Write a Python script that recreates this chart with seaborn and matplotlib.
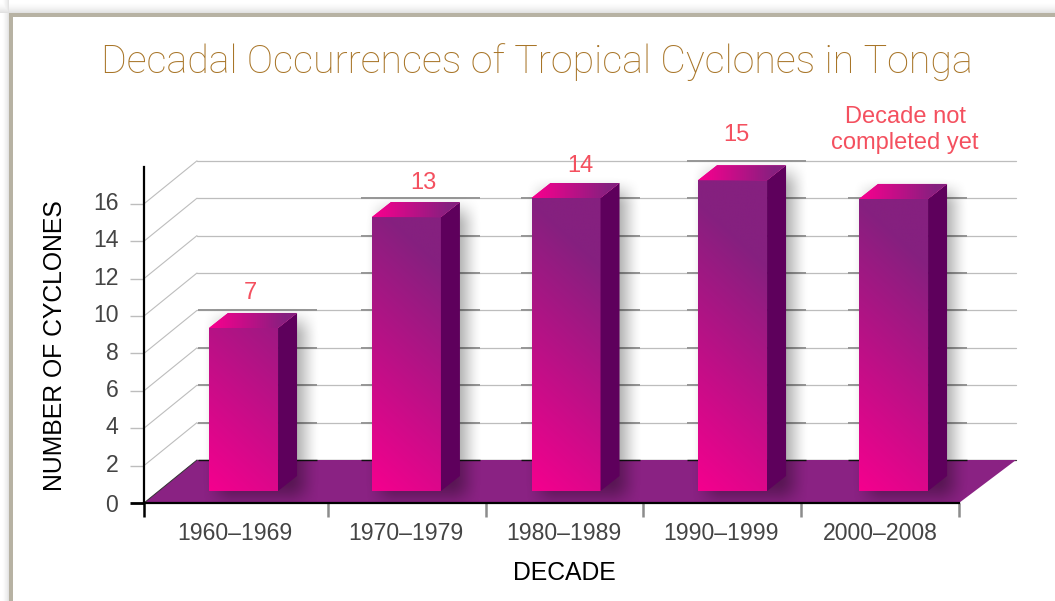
import numpy as np
import pandas as pd
import matplotlib
matplotlib.use("Agg")
import matplotlib.pyplot as plt
from matplotlib.colors import LinearSegmentedColormap
from matplotlib.patches import Polygon, Rectangle
from matplotlib.transforms import ScaledTranslation
import seaborn as sns

# ---- data
decades = ["1960–1969", "1970–1979", "1980–1989", "1990–1999", "2000–2008"]
bar_tops = [9.36, 15.29, 16.31, 17.26, 16.26]      # top of each bar front, read on the axis
bar_slots = [0.630, 1.661, 2.671, 3.725, 4.744]    # bar centres along the drawn x axis
value_labels = ["7", "13", "14", "15", "Decade not\ncompleted yet"]
y_ticks = [0, 2, 4, 6, 8, 10, 12, 14, 16]
x_separators = [0, 1.165, 2.165, 3.158, 4.158, 5.158]
x_label_slots = [0.576, 1.658, 2.658, 3.652, 4.658]
label_offsets_px = [(7, 20), (16.5, 19), (14, 17), (4, 30), (11.5, 54)]

# ---- geometry / style
W, H = 1055, 601
L, R, B, T = 144, 1016, 503, 160
PX, PY = 158.0, 18.7          # pixels per data unit
DX, DY = 53 / PX, 43 / PY     # wall depth
BDX, BDY = 19 / PX, 15 / PY   # bar depth
BASE = 12 / PY                # bar front foot above axis
BAR_W = 69 / PX
WALL_R = (R - L) / PX
PINK, PURPLE, SIDE, FLOOR = "#F5008E", "#85207F", "#5E005C", "#8A2283"
GOLD, RED = "#A87528", "#F4505F"
TEXT = "#444444"

sns.set_theme(style="white")
plt.rcParams["font.family"] = ["Liberation Sans", "DejaVu Sans"]
cmap = LinearSegmentedColormap.from_list("bar", [PINK, PURPLE])

fig = plt.figure(figsize=(W / 100, H / 100), dpi=100, facecolor="white")

# background frame
bg = fig.add_axes([0, 0, 1, 1], zorder=0)
yy, xx = np.mgrid[0:H, 0:W]
shade = np.maximum(np.where(yy < 13, yy / 13, 0), np.where(xx < 9, xx / 9, 0))
shade = 1 - 0.14 * shade ** 2
bg.imshow(shade, cmap="gray", vmin=0, vmax=1, aspect="auto", extent=(0, W, H, 0))
bg.add_patch(Rectangle((9, 13), W, 4, color="#B7B2A3", lw=0))
bg.add_patch(Rectangle((9, 13), 4, H, color="#B7B2A3", lw=0))
bg.add_patch(Rectangle((13, 17), W, H, color="white", lw=0))
bg.set_xlim(0, W); bg.set_ylim(H, 0); bg.axis("off")

ax = fig.add_axes([L / W, 1 - B / H, (R - L) / W, (B - T) / H], zorder=1)
ax.patch.set_alpha(0)

df = pd.DataFrame({"slot": bar_slots, "top": bar_tops, "decade": decades})
sns.barplot(data=df, x="slot", y="top", native_scale=True, color=PURPLE,
            width=BAR_W / np.diff(bar_slots).min(), ax=ax, zorder=6, saturation=1, linewidth=0)
bars = list(ax.patches)

# wall grid and floor
for v in y_ticks:
    c = "#3a3a3a" if v == 0 else "#bdbdbd"
    ax.plot([DX, WALL_R], [v + DY, v + DY], color=c, lw=0.9, zorder=0.5, clip_on=False)
    if v:
        ax.plot([0, DX], [v, v + DY], color="#bdbdbd", lw=0.8, zorder=0.5, clip_on=False)
floor = Polygon([(0, 0), (x_separators[-1], 0), (WALL_R, DY), (DX, DY)], closed=True,
                facecolor=FLOOR, edgecolor="none", zorder=1, clip_on=False)
ax.add_patch(floor)
ax.plot([0, DX], [0, DY], color="#333333", lw=0.7, zorder=1.1, clip_on=False)


def soft(u, a, b, f):
    s = np.clip((u - (a - f)) / (2 * f), 0, 1) * np.clip(((b + f) - u) / (2 * f), 0, 1)
    return s * s * (3 - 2 * s)


for p in bars:
    top = p.get_height()
    x0, w = p.get_x(), p.get_width()
    x1 = x0 + w
    p.set_y(BASE)
    p.set_height(top - BASE)

    # dark grid segments next to the bar
    for v in y_ticks:
        if v + DY <= top + BDY + 0.27:
            c = "#111111" if v == 0 else "#969696"
            ax.plot([x0 - 11 / PX, x1 + 39 / PX], [v + DY, v + DY], color=c,
                    lw=1.0 if v == 0 else 1.4, zorder=1.2, solid_capstyle="butt", clip_on=False)

    # soft shadow
    f = 16
    sx0, sx1 = x0 * PX + 8, (x1 + BDX) * PX + 7
    sy0, sy1 = (BASE * PY) - 6, (top + BDY) * PY - 8
    gx = np.arange(sx0 - f, sx1 + f)
    gy = np.arange(sy0 - f, sy1 + f)
    a = np.outer(soft(gy, sy0, sy1, f), soft(gx, sx0, sx1, f)) * 0.36
    rgba = np.zeros(a.shape + (4,))
    rgba[..., 3] = a
    ax.imshow(rgba, origin="lower", aspect="auto", zorder=2, interpolation="bilinear",
              extent=(gx[0] / PX, gx[-1] / PX, gy[0] / PY, gy[-1] / PY))

    # front face gradient
    n = 200
    gxf = np.linspace(0, 1, n)
    gyf = np.linspace(BASE, top, n)
    t = np.clip((gyf[:, None] - BASE) / 15.5 + 0.22 * gxf[None, :], 0, 1)
    im = ax.imshow(t, origin="lower", cmap=cmap, vmin=0, vmax=1, aspect="auto", zorder=7,
                   extent=(x0, x1, BASE, top))
    im.set_clip_path(p)

    # side and top faces
    ax.add_patch(Polygon([(x1, BASE), (x1 + BDX, BASE + BDY), (x1 + BDX, top + BDY), (x1, top)],
                         closed=True, facecolor=SIDE, edgecolor="none", zorder=7, clip_on=False))
    roof = Polygon([(x0, top), (x1, top), (x1 + BDX, top + BDY), (x0 + BDX, top + BDY)],
                   closed=True, facecolor=PINK, edgecolor="none", zorder=7, clip_on=False)
    ax.add_patch(roof)
    tt = np.clip(np.linspace(-0.05, 1.15, n)[None, :], 0, 1)
    im2 = ax.imshow(tt, origin="lower", cmap=cmap, vmin=0, vmax=1, aspect="auto", zorder=7.1,
                    extent=(x0, x1 + BDX, top, top + BDY))
    im2.set_clip_path(roof)

# value labels
for p, lab, (ox, oy) in zip(bars, value_labels, label_offsets_px):
    cx = p.get_x() + p.get_width() / 2
    ytop = p.get_y() + p.get_height() + BDY
    ax.annotate(lab, (cx, ytop), xytext=(ox * 0.72, oy * 0.72), textcoords="offset points",
                ha="center", va="center", color=RED, fontsize=17, fontfamily="Liberation Sans",
                linespacing=1.2, annotation_clip=False, zorder=9)

# axes
ax.set_xlim(0, WALL_R)
ax.set_ylim(0, (B - T) / PY)
ax.set_yticks(y_ticks)
ax.set_yticklabels([str(v) for v in y_ticks], color=TEXT, fontsize=16.6)
ax.tick_params(axis="y", which="major", length=10, width=1, color="#bdbdbd", pad=8.5, left=True)
for tick, v in zip(ax.yaxis.get_major_ticks(), y_ticks):
    if v == 0:
        tick.tick1line.set_markeredgecolor("black")
        tick.tick1line.set_markeredgewidth(2)
    else:
        tick.label1.set_transform(tick.label1.get_transform()
                                  + ScaledTranslation(0, 2 / 72, fig.dpi_scale_trans))

ax.set_xticks(x_label_slots)
ax.set_xticklabels(decades, color=TEXT, fontsize=16.6)
ax.set_xticks(x_separators, minor=True)
ax.tick_params(axis="x", which="major", length=0, pad=14, bottom=True)
ax.tick_params(axis="x", which="minor", length=10, width=1.8, color="#8c8c8c", bottom=True)
ax.xaxis.get_minor_ticks()[0].tick1line.set_markeredgecolor("black")

for s in ("top", "right"):
    ax.spines[s].set_visible(False)
for s in ("left", "bottom"):
    ax.spines[s].set_visible(True)
    ax.spines[s].set_color("black")
    ax.spines[s].set_linewidth(1.6)
    ax.spines[s].set_zorder(8)
ax.spines["left"].set_bounds(0, (B - 167) / PY)
ax.spines["bottom"].set_bounds(0, x_separators[-1])

ax.set_xlabel("DECADE", fontsize=17.8, color="black", va="center")
ax.set_ylabel("NUMBER OF CYCLONES", fontsize=17.8, color="black", va="center")
ax.xaxis.set_label_coords((564 - L) / (R - L), (B - 572.5) / (B - T))
ax.yaxis.set_label_coords((55 - L) / (R - L), (B - 346) / (B - T))

fig.text(537 / W, 1 - 62 / H, "Decadal Occurrences of Tropical Cyclones in Tonga",
         ha="center", va="center", color=GOLD, fontsize=28.35, fontfamily="Roboto", fontweight="light")

fig.savefig("out.png", dpi=100)
